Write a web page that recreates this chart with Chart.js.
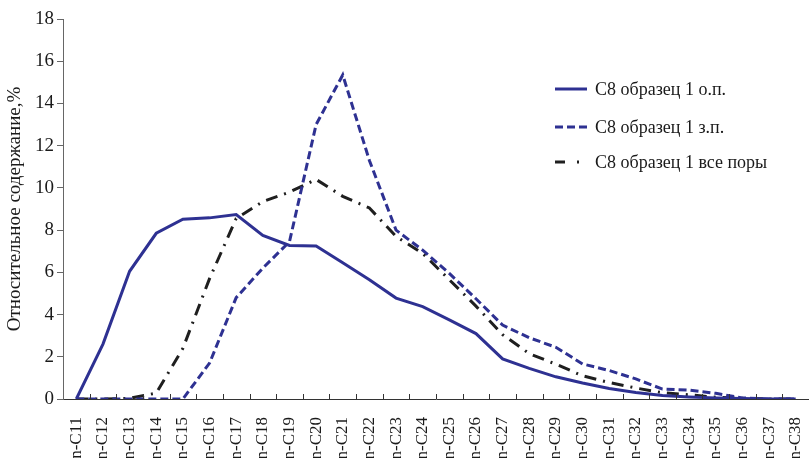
<!DOCTYPE html>
<html>
<head>
<meta charset="utf-8">
<script src="https://cdn.jsdelivr.net/npm/chart.js@4"></script>
<style>
  html, body { margin: 0; padding: 0; background: #fff; }
  #wrap { width: 809px; height: 458px; position: relative; }
</style>
</head>
<body>
<div id="wrap"><canvas id="c" width="809" height="458"></canvas></div>
<script>
// n-alkane homologues
const categories = ['n-C11','n-C12','n-C13','n-C14','n-C15','n-C16','n-C17','n-C18','n-C19','n-C20',
  'n-C21','n-C22','n-C23','n-C24','n-C25','n-C26','n-C27','n-C28','n-C29','n-C30',
  'n-C31','n-C32','n-C33','n-C34','n-C35','n-C36','n-C37','n-C38'];

// relative content, %
const openPores = [0, 2.6, 6.05, 7.85, 8.52, 8.58, 8.74, 7.75, 7.27, 7.25,
  6.45, 5.65, 4.78, 4.38, 3.75, 3.1, 1.9, 1.45, 1.05, 0.76,
  0.5, 0.31, 0.17, 0.1, 0.05, 0.02, 0, 0];
const closedPores = [0, 0, 0, 0, 0, 1.7, 4.8, 6.2, 7.45, 13.0,
  15.35, 11.3, 8.0, 7.05, 5.95, 4.75, 3.5, 2.9, 2.45, 1.66,
  1.35, 0.95, 0.47, 0.42, 0.27, 0.05, 0, 0];
const allPores = [0, 0, 0.03, 0.28, 2.4, 5.7, 8.55, 9.35, 9.8, 10.4,
  9.6, 9.05, 7.7, 6.9, 5.65, 4.4, 3.05, 2.15, 1.65, 1.1,
  0.78, 0.52, 0.3, 0.2, 0.08, 0.03, 0, 0];

const seriesNames = ['С8 образец 1 о.п.', 'С8 образец 1 з.п.', 'С8 образец 1 все поры'];
const yTicks = [0, 2, 4, 6, 8, 10, 12, 14, 16, 18];
const yTitle = 'Относительное содержание,%';

const BLUE = '#2e3192';
const BLACK = '#1f1f1f';
const SERIF = '"Liberation Serif", "Times New Roman", serif';

// legend drawn inside the plot area, one entry per row
const legendPlugin = {
  id: 'innerLegend',
  afterDatasetsDraw(chart) {
    const ctx = chart.ctx;
    const x0 = 555, x1 = 587, tx = 595;
    const rows = [89, 127, 162];
    ctx.save();
    chart.data.datasets.forEach((ds, i) => {
      const y = rows[i];
      ctx.beginPath();
      ctx.lineWidth = ds.borderWidth;
      ctx.strokeStyle = ds.borderColor;
      ctx.setLineDash(ds.legendDash || ds.borderDash || []);
      ctx.moveTo(x0, y);
      ctx.lineTo(x1, y);
      ctx.stroke();
      ctx.setLineDash([]);
      ctx.fillStyle = '#1a1a1a';
      ctx.font = '18px ' + SERIF;
      ctx.textBaseline = 'middle';
      ctx.textAlign = 'left';
      ctx.fillText(ds.label, tx, y + 1);
    });
    ctx.restore();
  }
};

// small upward tick marks between categories on the bottom axis
const innerTicks = {
  id: 'innerTicks',
  afterDraw(chart) {
    const xs = chart.scales.x;
    const ctx = chart.ctx;
    const bottom = chart.chartArea.bottom;
    const step = xs.getPixelForValue(1) - xs.getPixelForValue(0);
    ctx.save();
    ctx.strokeStyle = '#333';
    ctx.lineWidth = 1;
    for (let i = 0; i < categories.length; i++) {
      const px = Math.round(xs.getPixelForValue(i) + step / 2) + 0.5;
      ctx.beginPath();
      ctx.moveTo(px, bottom);
      ctx.lineTo(px, bottom - 5);
      ctx.stroke();
    }
    ctx.restore();
  }
};

new Chart(document.getElementById('c'), {
  type: 'line',
  data: {
    labels: categories,
    datasets: [
      { label: seriesNames[0], data: openPores, borderColor: BLUE, borderWidth: 3,
        pointRadius: 0, tension: 0, fill: false },
      { label: seriesNames[1], data: closedPores, borderColor: BLUE, borderWidth: 3,
        borderDash: [8, 4], pointRadius: 0, tension: 0, fill: false },
      { label: seriesNames[2], data: allPores, borderColor: BLACK, borderWidth: 3,
        borderDash: [12, 7, 2, 7], legendDash: [10, 12, 2, 20], pointRadius: 0, tension: 0, fill: false }
    ]
  },
  options: {
    responsive: false,
    animation: false,
    devicePixelRatio: 1,
    layout: { padding: { top: 19, right: 0, left: 0, bottom: 0 } },
    plugins: { legend: { display: false }, tooltip: { enabled: false } },
    scales: {
      x: {
        offset: true,
        grid: { display: false, offset: true },
        border: { display: true, color: '#333', width: 1 },
        ticks: {
          autoSkip: false, minRotation: 90, maxRotation: 90, padding: 10,
          color: '#1a1a1a', font: { family: SERIF, size: 17 }
        },
        afterFit(scale) {
          scale.height = 59;
          scale.paddingLeft = 0;
          scale.paddingRight = 0;
        }
      },
      y: {
        min: 0, max: 18,
        afterBuildTicks(scale) { scale.ticks = yTicks.map(v => ({ value: v })); },
        grid: { drawOnChartArea: false, drawTicks: true, tickLength: 6, color: '#666' },
        border: { display: true, color: '#666', width: 1 },
        ticks: { padding: 3, color: '#1a1a1a', font: { family: SERIF, size: 19 } },
        title: { display: true, text: yTitle, color: '#1a1a1a',
          font: { family: SERIF, size: 19 }, padding: { top: 4, bottom: 0 } },
        afterFit(scale) {
          scale.width = 63;
          scale.paddingTop = 0;
          scale.paddingBottom = 0;
        }
      }
    }
  },
  plugins: [legendPlugin, innerTicks]
});
</script>
</body>
</html>
